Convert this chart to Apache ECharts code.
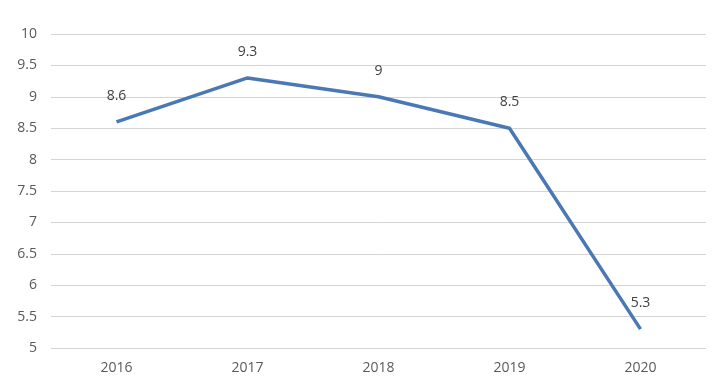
<!DOCTYPE html>
<html><head><meta charset="utf-8">
<script src="https://cdn.jsdelivr.net/npm/echarts@6/dist/echarts.min.js"></script>
<style>html,body{margin:0;padding:0;background:#fff}#c{width:726px;height:387px}</style>
</head><body><div id="c"></div>
<script>
const years = ['2016','2017','2018','2019','2020'];
const values = [8.6, 9.3, 9, 8.5, 5.3];
const chart = echarts.init(document.getElementById('c'));
chart.setOption({
  animation: false,
  grid: {left: 51, right: 20, top: 34, bottom: 39},
  xAxis: {
    type: 'category', data: years, boundaryGap: true,
    axisLine: {show: false}, axisTick: {show: false},
    axisLabel: {color: '#595959', fontSize: 14, fontFamily: 'Open Sans, sans-serif', margin: 13}
  },
  yAxis: {
    type: 'value', min: 5, max: 10, interval: 0.5,
    axisLine: {show: false}, axisTick: {show: false},
    splitLine: {lineStyle: {color: '#d4d4d4', width: 1}},
    axisLabel: {color: '#595959', fontSize: 14, fontFamily: 'Open Sans, sans-serif', margin: 14}
  },
  series: [{
    type: 'line', data: values, symbol: 'circle', symbolSize: 0, showSymbol: true,
    itemStyle: {color: '#4a78b5'},
    lineStyle: {color: '#4a78b5', width: 3.5},
    label: {show: true, position: 'top', distance: 19, color: '#404040', fontSize: 14, fontFamily: 'Open Sans, sans-serif'}
  }]
});
</script></body></html>
